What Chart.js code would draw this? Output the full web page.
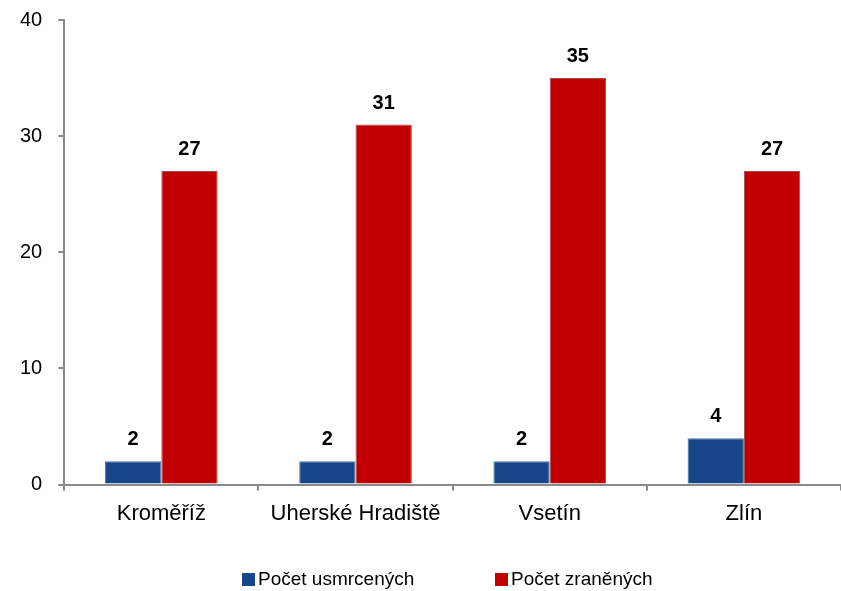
<!DOCTYPE html>
<html>
<head>
<meta charset="utf-8">
<script src="https://cdn.jsdelivr.net/npm/chart.js@4.4.1/dist/chart.umd.min.js"></script>
<style>
  body { margin: 0; background: #fff; overflow: hidden; }
  #wrap { position: relative; width: 841px; height: 591px; overflow: hidden; }
  #plot { position: absolute; left: 0; top: -8px; width: 841px; height: 599px; }
  #legend {
    position: absolute; top: 568px; left: 0; width: 841px; height: 22px;
    font-family: "Liberation Sans", Arial, sans-serif; font-size: 19px; color: #000;
  }
  .item { position: absolute; top: 0; display: flex; align-items: center; height: 22px; }
  .box { width: 13px; height: 13px; margin-right: 3px; }
</style>
</head>
<body>
<div id="wrap">
  <div id="plot"><canvas id="chart"></canvas></div>
  <div id="legend"></div>
</div>
<script>
// ---------- DATA ----------
const districts = ["Kroměříž", "Uherské Hradiště", "Vsetín", "Zlín"];
const killed = [2, 2, 2, 4];
const injured = [27, 31, 35, 27];
const yTicks = [0, 10, 20, 30, 40];

const seriesNames = ["Počet usmrcených", "Počet zraněných"];
const seriesColors = ["#17468a", "#c00000"];
const legendLeft = [242, 495];

const FONT = '"Liberation Sans", Arial, sans-serif';
const AXIS = "#8a8a8a";

// ---------- VALUE LABELS ----------
const valueLabels = {
  id: "valueLabels",
  afterDatasetsDraw(chart) {
    const ctx = chart.ctx;
    ctx.save();
    ctx.font = "bold 20px " + FONT;
    ctx.fillStyle = "#000";
    ctx.textAlign = "center";
    ctx.textBaseline = "alphabetic";
    chart.data.datasets.forEach((ds, i) => {
      chart.getDatasetMeta(i).data.forEach((bar, j) => {
        ctx.fillText(ds.data[j], bar.x, bar.y - 16);
      });
    });
    ctx.restore();
  }
};

// ---------- CHART ----------
new Chart(document.getElementById("chart"), {
  type: "bar",
  data: {
    labels: districts,
    datasets: [
      { label: seriesNames[0], data: killed, backgroundColor: seriesColors[0], borderColor: "#4d72a8", borderWidth: 1 },
      { label: seriesNames[1], data: injured, backgroundColor: seriesColors[1], borderColor: "#a84a4a", borderWidth: 1 }
    ]
  },
  options: {
    responsive: true,
    maintainAspectRatio: false,
    animation: false,
    categoryPercentage: 0.58,
    barPercentage: 1,
    layout: { padding: { left: 4, right: 0, top: 2, bottom: 54 } },
    plugins: { legend: { display: false }, tooltip: { enabled: false } },
    scales: {
      x: {
        grid: { display: true, drawOnChartArea: false, tickLength: 6, color: AXIS, lineWidth: 2 },
        border: { color: AXIS, width: 2 },
        ticks: { color: "#000", font: { family: FONT, size: 22 }, padding: 10, maxRotation: 0 }
      },
      y: {
        min: 0,
        max: 40,
        afterBuildTicks: axis => { axis.ticks = yTicks.map(v => ({ value: v })); },
        grid: { display: true, drawOnChartArea: false, tickLength: 6, color: AXIS, lineWidth: 2 },
        border: { color: AXIS, width: 2 },
        ticks: { color: "#000", font: { family: FONT, size: 20 }, padding: 16 }
      }
    }
  },
  plugins: [valueLabels]
});

// ---------- LEGEND ----------
const legend = document.getElementById("legend");
seriesNames.forEach((name, i) => {
  const item = document.createElement("div");
  item.className = "item";
  item.style.left = legendLeft[i] + "px";
  item.innerHTML = `<span class="box" style="background:${seriesColors[i]}"></span><span>${name}</span>`;
  legend.appendChild(item);
});
</script>
</body>
</html>
